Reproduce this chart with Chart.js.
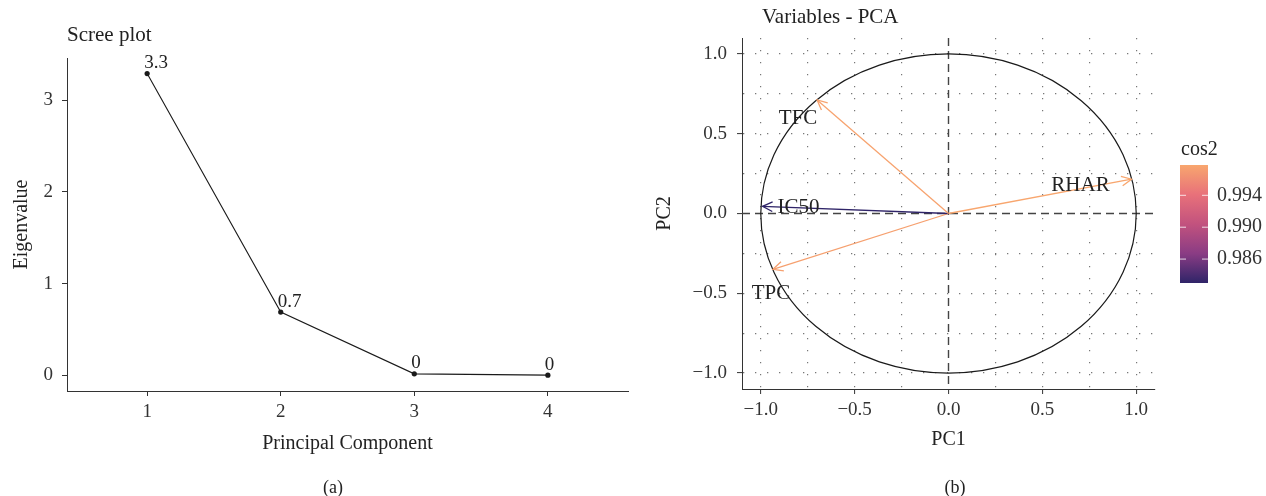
<!DOCTYPE html>
<html>
<head>
<meta charset="utf-8">
<script src="https://cdn.jsdelivr.net/npm/chart.js@4.4.1/dist/chart.umd.min.js"></script>
<style>
  html, body { margin: 0; padding: 0; background: #fff; }
  #wrap { position: relative; width: 1266px; height: 496px; font-family: "Liberation Serif", serif; }
  #boxA { position: absolute; left: 0; top: 0; width: 640px; height: 496px; }
  #boxB { position: absolute; left: 640px; top: 0; width: 626px; height: 496px; }
  .cap { position: absolute; top: 477px; font-size: 18px; line-height: 20px; color: #222; transform: translateX(-50%); }
</style>
</head>
<body>
<div id="wrap">
  <div id="boxA"><canvas id="chartScree"></canvas></div>
  <div id="boxB"><canvas id="chartPca"></canvas></div>
  <div class="cap" style="left:333px">(a)</div>
  <div class="cap" style="left:955px">(b)</div>
</div>
<script>
// scree plot data
const screeX = [1, 2, 3, 4];
const screeTickLabels = ['1', '2', '3', '4'];
const eigenvalues = [3.29, 0.69, 0.017, 0.003];
const screeYTicks = [0, 1, 2, 3];

// PCA variables data
const varNames = ['TFC', 'IC50', 'TPC', 'RHAR'];
const pc1 = [-0.70, -0.9905, -0.935, 0.975];
const pc2 = [0.712, 0.045, -0.35, 0.215];
const cos2 = [0.9976, 0.983, 0.9974, 0.9978];
const pcaMajor = [-1.0, -0.5, 0.0, 0.5, 1.0];
const pcaMinor = [-0.75, -0.25, 0.25, 0.75];
const cosTicks = [0.986, 0.990, 0.994];

// label offsets from arrow tips (px)
const labelOffsets = [[-19, 19], [36, 1], [-2, 24], [-51, 6]];

const FONT = '"Liberation Serif", serif';
Chart.defaults.font.family = FONT;
Chart.defaults.font.size = 19;
Chart.defaults.color = '#333';

// magma-like colour ramp for cos2 (bottom -> top)
const rampStops = ['#2f2468', '#8a3c84', '#c2527e', '#e8717a', '#f8a66e'];
function hexToRgb(h) {
  return [parseInt(h.slice(1, 3), 16), parseInt(h.slice(3, 5), 16), parseInt(h.slice(5, 7), 16)];
}
const cosMin = Math.min(...cos2);
const cosMax = Math.max(...cos2);
function cosColor(v) {
  let t = (v - cosMin) / (cosMax - cosMin);
  t = Math.max(0, Math.min(1, t));
  const seg = t * (rampStops.length - 1);
  const i = Math.min(Math.floor(seg), rampStops.length - 2);
  const f = seg - i;
  const a = hexToRgb(rampStops[i]), b = hexToRgb(rampStops[i + 1]);
  const c = a.map((x, k) => Math.round(x + (b[k] - x) * f));
  return 'rgb(' + c.join(',') + ')';
}

const panelTitle = {
  id: 'panelTitle',
  afterDraw(chart, args, opts) {
    const { ctx, chartArea } = chart;
    ctx.save();
    ctx.font = '21px ' + FONT;
    ctx.fillStyle = '#222';
    ctx.textBaseline = 'middle';
    ctx.textAlign = 'left';
    ctx.fillText(opts.text, chartArea.left + opts.dx, opts.y);
    ctx.restore();
  }
};

// value labels above scree points
const screeLabels = {
  id: 'screeLabels',
  afterDatasetsDraw(chart) {
    const { ctx } = chart;
    const meta = chart.getDatasetMeta(0);
    ctx.save();
    ctx.font = '19px ' + FONT;
    ctx.fillStyle = '#222';
    ctx.textAlign = 'left';
    ctx.textBaseline = 'alphabetic';
    meta.data.forEach((p, i) => {
      const txt = String(Math.round(eigenvalues[i] * 10) / 10);
      ctx.fillText(txt, p.x - 3, p.y - 5.5);
    });
    ctx.restore();
  }
};

new Chart(document.getElementById('chartScree').getContext('2d'), {
  type: 'line',
  data: {
    datasets: [{
      data: screeX.map((x, i) => ({ x: x, y: eigenvalues[i] })),
      borderColor: '#1a1a1a',
      borderWidth: 1.1,
      pointRadius: 2.6,
      pointBackgroundColor: '#1a1a1a',
      pointBorderWidth: 0,
      tension: 0
    }]
  },
  options: {
    responsive: true,
    maintainAspectRatio: false,
    animation: false,
    layout: { padding: { left: 0, right: 12, top: 58, bottom: 39 } },
    plugins: {
      legend: { display: false },
      tooltip: { enabled: false },
      panelTitle: { text: 'Scree plot', dx: 0, y: 35 }
    },
    scales: {
      x: {
        type: 'linear',
        min: 0.4,
        max: 4.6,
        afterBuildTicks: s => { s.ticks = screeX.map(v => ({ value: v })); },
        afterFit: s => { s.height = 66; },
        ticks: {
          padding: 5,
          callback: v => screeTickLabels[screeX.indexOf(v)]
        },
        grid: { drawOnChartArea: false, tickLength: 5, tickColor: '#333', tickWidth: 1 },
        border: { display: true, color: '#333', width: 1 },
        title: { display: true, text: 'Principal Component', color: '#222', font: { size: 20 }, padding: { top: 0, bottom: 1 } }
      },
      y: {
        min: -0.17,
        max: 3.46,
        afterBuildTicks: s => { s.ticks = screeYTicks.map(v => ({ value: v })); },
        afterFit: s => { s.width = 67; },
        ticks: { padding: 9 },
        grid: { drawOnChartArea: false, tickLength: 5, tickColor: '#333', tickWidth: 1 },
        border: { display: true, color: '#333', width: 1 },
        title: { display: true, text: 'Eigenvalue', color: '#222', font: { size: 20 }, padding: { top: 10, bottom: 0 } }
      }
    }
  },
  plugins: [panelTitle, screeLabels]
});

// correlation circle, zero lines, arrow heads, labels, colour bar
const pcaDecor = {
  id: 'pcaDecor',
  beforeDatasetsDraw(chart) {
    const { ctx, chartArea, scales: { x, y } } = chart;
    const cx = x.getPixelForValue(0), cy = y.getPixelForValue(0);
    ctx.save();
    ctx.strokeStyle = '#444';
    ctx.lineWidth = 1.4;
    ctx.setLineDash([8, 5]);
    ctx.beginPath();
    ctx.moveTo(chartArea.left, cy); ctx.lineTo(chartArea.right, cy);
    ctx.moveTo(cx, chartArea.top); ctx.lineTo(cx, chartArea.bottom);
    ctx.stroke();
    ctx.setLineDash([]);
    ctx.strokeStyle = '#1a1a1a';
    ctx.lineWidth = 1.2;
    ctx.beginPath();
    ctx.ellipse(cx, cy, x.getPixelForValue(1) - cx, cy - y.getPixelForValue(1), 0, 0, Math.PI * 2);
    ctx.stroke();
    ctx.restore();
  },
  afterDatasetsDraw(chart) {
    const { ctx, chartArea } = chart;
    ctx.save();
    chart.data.datasets.forEach((ds, i) => {
      const pts = chart.getDatasetMeta(i).data;
      const p0 = pts[0], p1 = pts[1];
      const ang = Math.atan2(p1.y - p0.y, p1.x - p0.x);
      const len = 11, spread = 0.45;
      ctx.strokeStyle = ds.borderColor;
      ctx.lineWidth = 1.3;
      ctx.beginPath();
      ctx.moveTo(p1.x - len * Math.cos(ang - spread), p1.y - len * Math.sin(ang - spread));
      ctx.lineTo(p1.x, p1.y);
      ctx.lineTo(p1.x - len * Math.cos(ang + spread), p1.y - len * Math.sin(ang + spread));
      ctx.stroke();
      ctx.font = '21px ' + FONT;
      ctx.fillStyle = '#222';
      ctx.textAlign = 'center';
      ctx.textBaseline = 'middle';
      ctx.fillText(varNames[i], p1.x + labelOffsets[i][0], p1.y + labelOffsets[i][1]);
    });

    // colour bar legend
    const bx = chartArea.right + 25, bw = 28, top = 165, bottom = 283;
    const grad = ctx.createLinearGradient(0, bottom, 0, top);
    rampStops.forEach((c, k) => grad.addColorStop(k / (rampStops.length - 1), c));
    ctx.fillStyle = grad;
    ctx.fillRect(bx, top, bw, bottom - top);
    ctx.font = '20px ' + FONT;
    ctx.fillStyle = '#222';
    ctx.textAlign = 'left';
    ctx.textBaseline = 'middle';
    ctx.fillText('cos2', bx + 1, 150);
    cosTicks.forEach(v => {
      const ty = bottom - (v - cosMin) / (cosMax - cosMin) * (bottom - top);
      ctx.strokeStyle = 'rgba(255,255,255,0.8)';
      ctx.lineWidth = 1;
      ctx.beginPath();
      ctx.moveTo(bx, ty); ctx.lineTo(bx + 6, ty);
      ctx.moveTo(bx + bw - 6, ty); ctx.lineTo(bx + bw, ty);
      ctx.stroke();
      ctx.fillStyle = '#333';
      ctx.fillText(v.toFixed(3), bx + bw + 9, ty);
    });
    ctx.restore();
  }
};

const pcaGridTicks = pcaMajor.concat(pcaMinor).sort((a, b) => a - b);
function pcaTickLabel(v) {
  if (!pcaMajor.includes(v)) return '';
  return (v < 0 ? '\u2212' : '') + Math.abs(v).toFixed(1);
}
const pcaGrid = {
  drawOnChartArea: true,
  color: c => c.tick && c.tick.value === 0 ? 'rgba(0,0,0,0)' : '#777',
  lineWidth: 1.2,
  tickLength: 5,
  tickWidth: 1,
  tickColor: c => pcaMajor.includes(c.tick.value) ? '#333' : 'rgba(0,0,0,0)'
};

new Chart(document.getElementById('chartPca').getContext('2d'), {
  type: 'line',
  data: {
    datasets: varNames.map((name, i) => ({
      label: name,
      data: [{ x: 0, y: 0 }, { x: pc1[i], y: pc2[i] }],
      borderColor: cosColor(cos2[i]),
      borderWidth: 1.3,
      pointRadius: 0
    }))
  },
  options: {
    responsive: true,
    maintainAspectRatio: false,
    animation: false,
    layout: { padding: { left: 0, right: 111, top: 38, bottom: 41 } },
    plugins: {
      legend: { display: false },
      tooltip: { enabled: false },
      panelTitle: { text: 'Variables - PCA', dx: 20, y: 17 }
    },
    scales: {
      x: {
        type: 'linear',
        min: -1.1,
        max: 1.1,
        afterBuildTicks: s => { s.ticks = pcaGridTicks.map(v => ({ value: v })); },
        afterFit: s => { s.height = 66; },
        ticks: { padding: 5, autoSkip: false, maxRotation: 0, callback: v => pcaTickLabel(v) },
        grid: pcaGrid,
        border: { display: true, color: '#333', width: 1, dash: [1.3, 10.7] },
        title: { display: true, text: 'PC1', color: '#222', font: { size: 20 }, padding: { top: 0, bottom: 3 } }
      },
      y: {
        type: 'linear',
        min: -1.1,
        max: 1.1,
        afterBuildTicks: s => { s.ticks = pcaGridTicks.map(v => ({ value: v })); },
        afterFit: s => { s.width = 102; },
        ticks: { padding: 10, autoSkip: false, callback: v => pcaTickLabel(v) },
        grid: pcaGrid,
        border: { display: true, color: '#333', width: 1, dash: [1.3, 10.7] },
        title: { display: true, text: 'PC2', color: '#222', font: { size: 20 }, padding: { top: 13, bottom: 0 } }
      }
    }
  },
  plugins: [panelTitle, pcaDecor]
});
</script>
</body>
</html>
